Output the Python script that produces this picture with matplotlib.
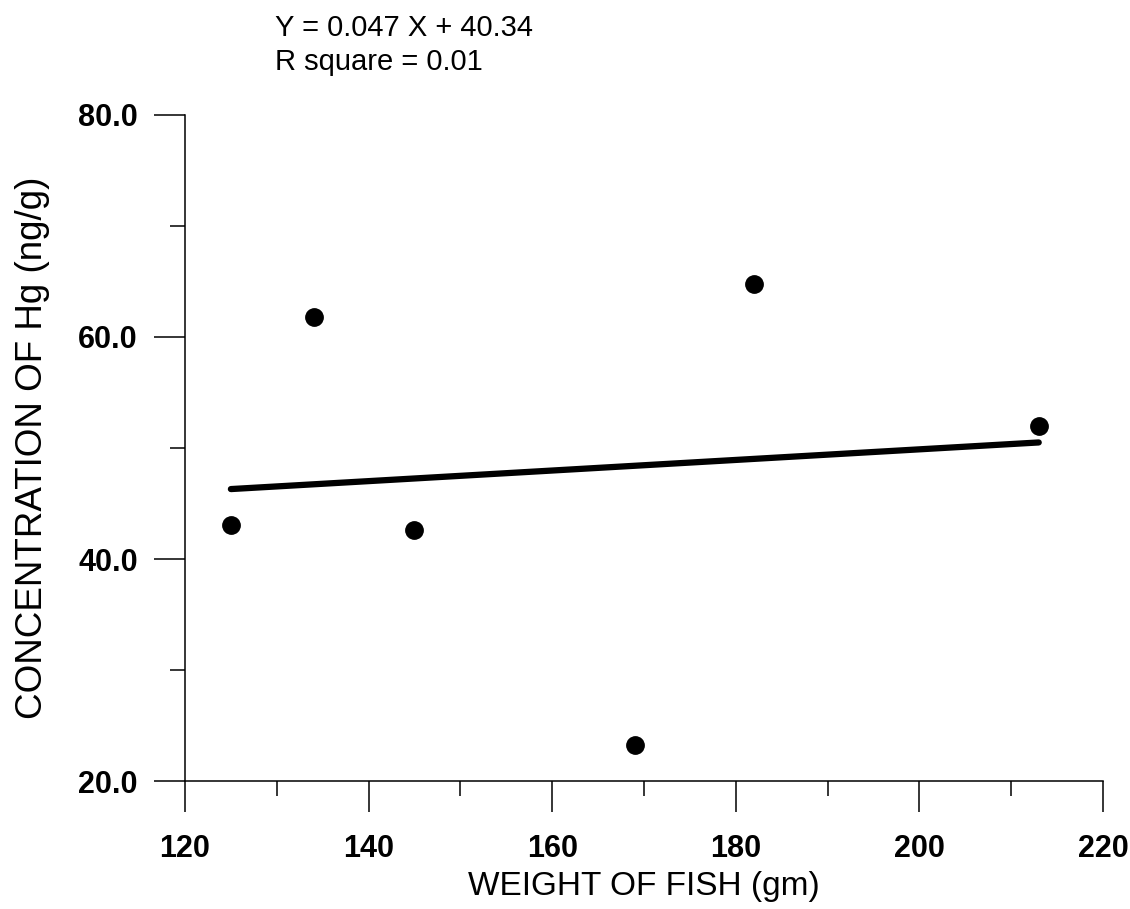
import matplotlib as mpl
mpl.use('Agg')
import matplotlib.pyplot as plt
from matplotlib.ticker import MultipleLocator, FormatStrFormatter

plt.rcParams['font.family'] = ['Liberation Sans', 'DejaVu Sans']

# fish weight (gm) vs Hg concentration (ng/g)
weight = [125, 134, 145, 169, 182, 213]
hg_conc = [43.1, 61.8, 42.6, 23.2, 64.8, 52.0]

# regression line end points
fit_x = [125, 213]
fit_y = [46.3, 50.5]

eq_text = 'Y = 0.047 X + 40.34\nR square = 0.01'

fig = plt.figure(figsize=(11.3, 9.09), dpi=100)
ax = fig.add_axes([0.1637, 0.1408, 0.8124, 0.7327])

ax.plot(fit_x, fit_y, color='black', lw=4.5, solid_capstyle='round')
ax.plot(weight, hg_conc, 'o', color='black', ms=12.5)

ax.set_xlim(120, 220)
ax.set_ylim(20, 80)
ax.xaxis.set_major_locator(MultipleLocator(20))
ax.xaxis.set_minor_locator(MultipleLocator(10))
ax.yaxis.set_major_locator(MultipleLocator(20))
ax.yaxis.set_minor_locator(MultipleLocator(10))
ax.yaxis.set_major_formatter(FormatStrFormatter('%.1f'))

for s in ['top', 'right']:
    ax.spines[s].set_visible(False)
for s in ['left', 'bottom']:
    ax.spines[s].set_linewidth(1.1)

ax.tick_params(which='major', direction='out', length=22, width=1.1,
               labelsize=22, pad=12)
ax.tick_params(which='minor', direction='out', length=11, width=1.1)
ax.tick_params(axis='x', which='major', pad=16)
for lbl in ax.get_xticklabels() + ax.get_yticklabels():
    lbl.set_fontweight('bold')

ax.set_xlabel('WEIGHT OF FISH (gm)', fontsize=24, labelpad=5)
ax.set_ylabel('CONCENTRATION OF Hg (ng/g)', fontsize=26.5, labelpad=20)

fig.text(0.243, 0.985, eq_text, fontsize=21, va='top', ha='left',
         linespacing=1.3)

fig.savefig('out.png', dpi=100)
